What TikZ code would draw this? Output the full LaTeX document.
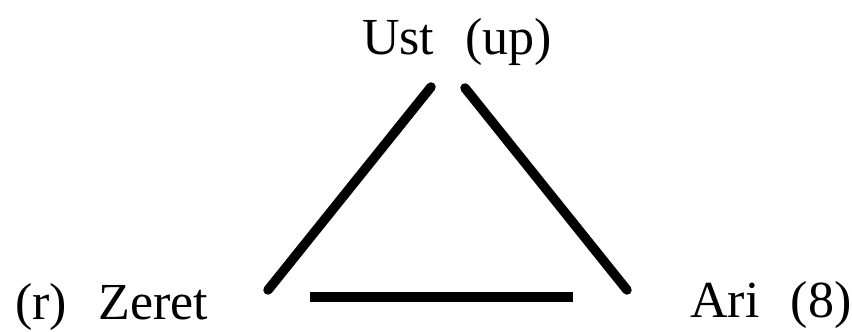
\documentclass[tikz,border=0pt]{standalone}
\usepackage{fontspec}
\setmainfont{Liberation Serif}
\begin{document}
\begin{tikzpicture}[x=1pt,y=1pt,
  lbl/.style={inner sep=0pt, anchor=base west, font=\fontsize{52}{60}\selectfont},
  bar/.style={line width=9.5pt, line cap=round}]
\useasboundingbox (0,0) rectangle (852,332);
\node[lbl] (ust) at (362,277) {Ust\hspace{0.6em}(up)};
\node[lbl] (zeret) at (15,12) {(r)\hspace{0.6em}Zeret};
\node[lbl] (ari) at (690,14) {Ari\hspace{0.6em}(8)};
\coordinate (l1) at (268,42);
\coordinate (l2) at (431,245);
\coordinate (r1) at (465,244);
\coordinate (r2) at (627,42);
\coordinate (b1) at (310,35);
\coordinate (b2) at (573,35);
\draw[bar] (l1) -- (l2);
\draw[bar] (r1) -- (r2);
\draw[bar, line cap=butt, line width=10pt] (b1) -- (b2);
\end{tikzpicture}
\end{document}
